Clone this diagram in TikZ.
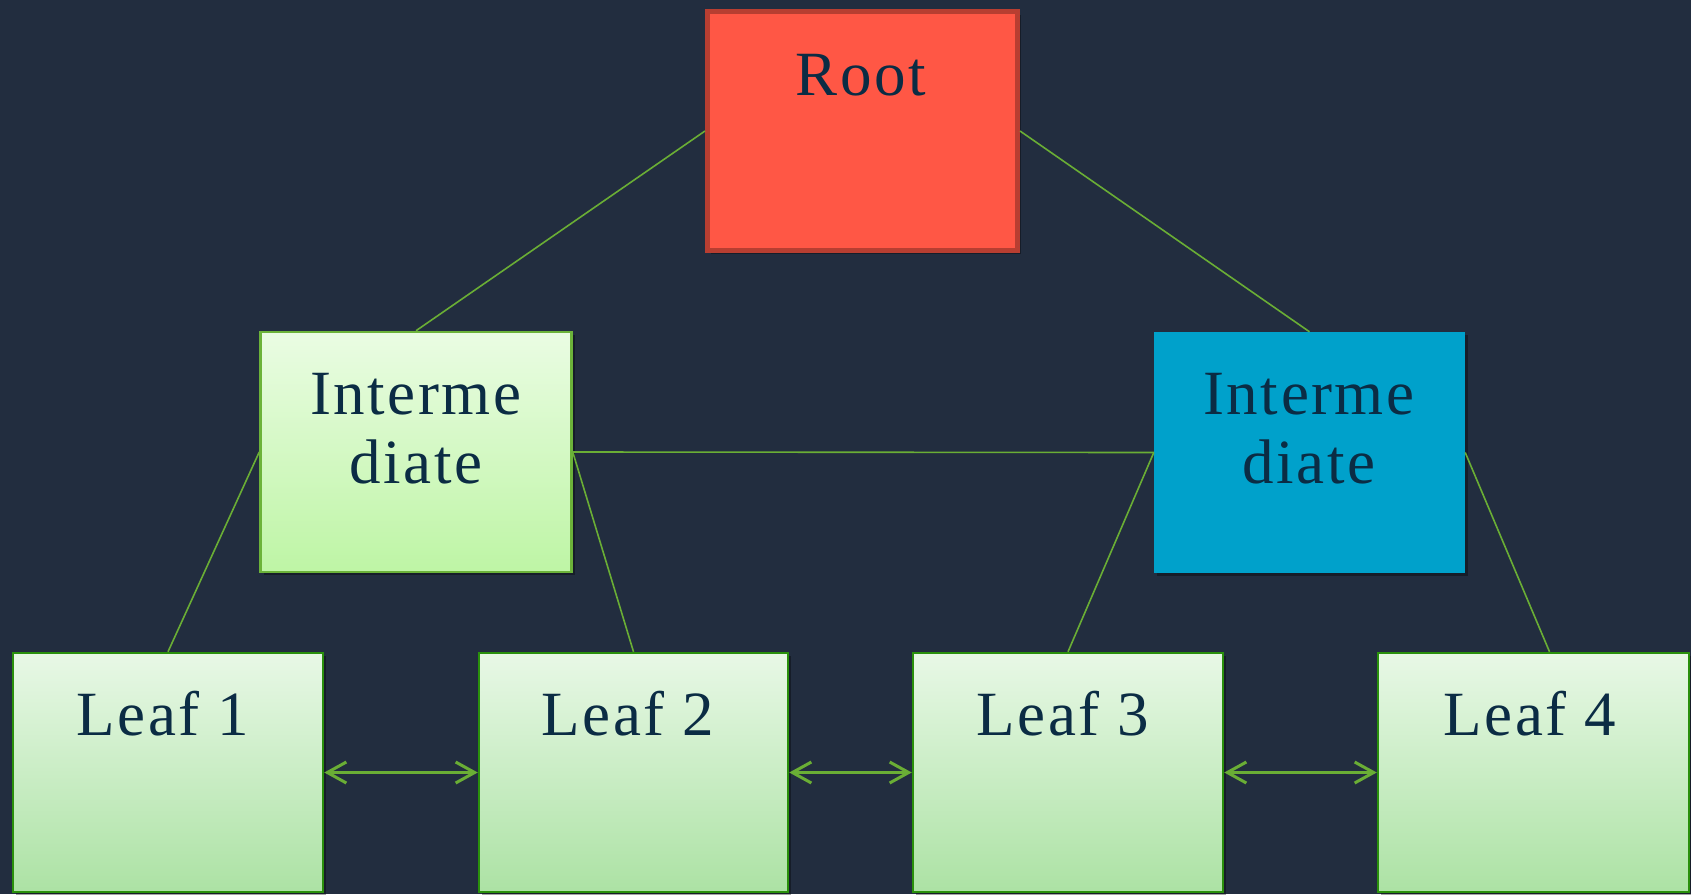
\documentclass[tikz,border=0pt]{standalone}
\usepackage{fontspec}
\setmainfont{Liberation Serif}[LetterSpace=4]
\usetikzlibrary{arrows.meta,shadows}
\definecolor{bgnavy}{HTML}{222D3F}
\definecolor{rootfill}{HTML}{FF5745}
\definecolor{rootedge}{HTML}{B83E31}
\definecolor{bluefill}{HTML}{00A1CB}
\definecolor{linkgreen}{HTML}{6AAE35}
\definecolor{leafedge}{HTML}{2A900C}
\definecolor{midedge}{HTML}{6CB33A}
\definecolor{labelink}{HTML}{0B2C44}
\tikzset{
  box/.style={rectangle, inner sep=0pt, minimum width=310pt, minimum height=239pt,
    drop shadow={shadow xshift=3pt, shadow yshift=-3pt, opacity=0.35, fill=black}},
  rootbox/.style={box, fill=rootfill, draw=rootedge, line width=5pt},
  greenmid/.style={box, draw=midedge, line width=2.5pt, minimum width=311pt, minimum height=240pt,
    top color={rgb,255:red,234;green,252;blue,227}, bottom color={rgb,255:red,190;green,245;blue,165}},
  bluemid/.style={box, fill=bluefill, minimum width=311pt, minimum height=241pt},
  leafbox/.style={box, draw=leafedge, line width=2.5pt,
    top color={rgb,255:red,232;green,248;blue,230}, bottom color={rgb,255:red,172;green,226;blue,164}},
  caption/.style={anchor=base, inner sep=0pt, text=labelink, align=center,
    font=\fontsize{63}{69}\selectfont},
  link/.style={draw=linkgreen, line width=1.6pt},
  pair/.style={draw=linkgreen, line width=3pt,
    {Straight Barb[length=19pt,width=21pt,line width=3pt]}-{Straight Barb[length=19pt,width=21pt,line width=3pt]}}
}
\begin{document}
\begin{tikzpicture}[x=1pt,y=-1pt]
  \fill[bgnavy] (0,0) rectangle (1691,894);
  \useasboundingbox (0,0) rectangle (1691,894);

  % boxes
  \node[rootbox]  (root)  at (862.5,131) {};
  \node[greenmid] (intL)  at (416,452) {};
  \node[bluemid]  (intR)  at (1309.5,452.5) {};
  \node[leafbox]  (leaf1) at (168,772.5) {};
  \node[leafbox, minimum width=309pt] (leaf2) at (633.5,772.5) {};
  \node[leafbox]  (leaf3) at (1068,772.5) {};
  \node[leafbox, minimum width=311pt] (leaf4) at (1533.5,772.5) {};

  % captions (base anchor sits on the last line)
  \node[caption] (rootT)  at (861,95)  {Root};
  \node[caption] (intLT)  at (416,483) {Interme\\diate};
  \node[caption] (intRT)  at (1309,483) {Interme\\diate};
  \node[caption] (leaf1T) at (163,735) {Leaf 1};
  \node[caption] (leaf2T) at (628,735) {Leaf 2};
  \node[caption] (leaf3T) at (1063,735) {Leaf 3};
  \node[caption] (leaf4T) at (1530,735) {Leaf 4};

  % tree links
  \coordinate (leaf4top) at ([xshift=16pt]leaf4.north);
  \draw[link] (root.west) -- (intL.north);
  \draw[link] (root.east) -- (intR.north);
  \draw[link] (intL.west) -- (leaf1.north);
  \draw[link] (intL.east) -- (leaf2.north);
  \draw[link] (intL.east) -- (intR.west);
  \draw[link] (intR.west) -- (leaf3.north);
  \draw[link] (intR.east) -- (leaf4top);

  % sibling links
  \draw[pair] (leaf1.east) -- (leaf2.west);
  \draw[pair] (leaf2.east) -- (leaf3.west);
  \draw[pair] (leaf3.east) -- (leaf4.west);
\end{tikzpicture}
\end{document}
